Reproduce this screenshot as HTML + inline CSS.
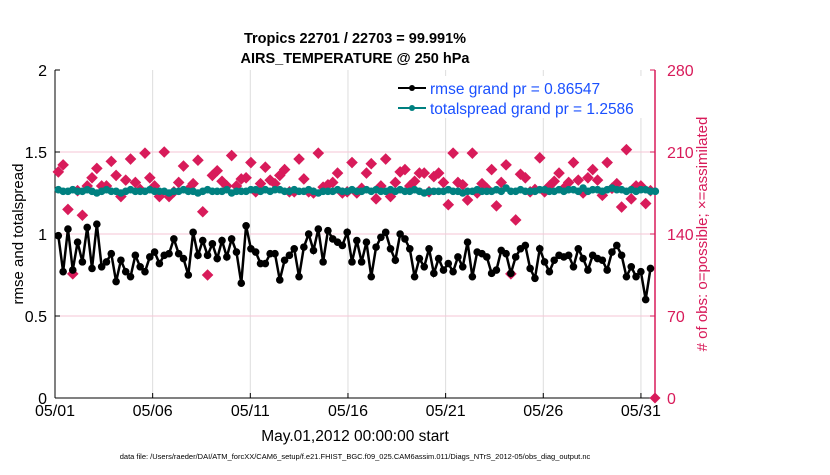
<!DOCTYPE html>
<html><head><meta charset="utf-8"><style>
body{margin:0;background:#fff;width:830px;height:470px;overflow:hidden;font-family:"Liberation Sans",sans-serif}
</style></head><body>
<svg id="chart" width="830" height="470" xmlns="http://www.w3.org/2000/svg" font-family="Liberation Sans, sans-serif">
<text x="355" y="43" text-anchor="middle" font-size="14.5" font-weight="bold">Tropics 22701 / 22703 = 99.991%</text>
<text x="355" y="63" text-anchor="middle" font-size="14.5" font-weight="bold">AIRS_TEMPERATURE @ 250 hPa</text>
<g id="grid"></g><g id="axes"></g><g id="marks"></g>
<g>
<rect x="390" y="76" width="262" height="42" fill="#fff"/>
<g>
<line x1="398" y1="88" x2="426" y2="88" stroke="#000" stroke-width="2"/><circle cx="412" cy="88" r="3" fill="#000"/>
<text x="430" y="94" font-size="15.5" fill="#1a50ff">rmse grand pr = 0.86547</text></g>
<g>
<line x1="398" y1="108" x2="426" y2="108" stroke="#008080" stroke-width="2"/><circle cx="412" cy="108" r="3" fill="#008080"/>
<text x="430" y="114" font-size="15.5" fill="#1a50ff">totalspread grand pr = 1.2586</text></g>
</g>
<text transform="translate(23,234) rotate(-90)" text-anchor="middle" font-size="15">rmse and totalspread</text>
<text transform="translate(707,234) rotate(-90)" text-anchor="middle" font-size="15" fill="#d81b5a"># of obs: o=possible; ×=assimilated</text>
<text x="355" y="441" text-anchor="middle" font-size="15.5">May.01,2012 00:00:00 start</text>
<text x="355" y="459" text-anchor="middle" font-size="7.5">data file: /Users/raeder/DAI/ATM_forcXX/CAM6_setup/f.e21.FHIST_BGC.f09_025.CAM6assim.011/Diags_NTrS_2012-05/obs_diag_output.nc</text>
</svg>
<script>
const rmse=[0.99,0.77,1.03,0.78,0.95,0.83,1.04,0.79,1.06,0.80,0.83,0.88,0.71,0.84,0.77,0.74,0.87,0.80,0.77,0.86,0.89,0.82,0.87,0.88,0.97,0.88,0.85,0.75,1.01,0.87,0.96,0.87,0.94,0.85,0.96,0.86,0.97,0.89,0.70,1.05,0.91,0.89,0.82,0.82,0.88,0.88,0.72,0.84,0.87,0.91,0.74,0.92,1.00,0.90,1.03,0.83,1.02,0.97,0.95,0.93,1.01,0.83,0.96,
0.83,0.95,0.74,0.92,0.98,1.01,0.91,0.84,1.00,0.97,0.91,0.74,0.85,0.80,0.91,0.76,0.85,0.78,0.82,0.77,0.86,0.80,0.95,0.74,0.89,0.88,0.86,0.76,0.78,0.90,0.88,0.76,0.86,0.91,0.93,0.79,0.73,0.91,0.83,0.77,0.84,0.87,0.86,0.87,0.80,0.91,0.85,0.78,0.87,0.85,0.84,0.78,0.89,0.93,0.87,0.74,0.80,0.74,0.77,0.60,0.79];
const spread=[1.27,1.26,1.26,1.27,1.26,1.26,1.27,1.26,1.25,1.26,1.27,1.26,1.26,1.25,1.26,1.27,1.26,1.26,1.26,1.27,1.26,1.26,1.26,1.25,1.26,1.26,1.27,1.26,1.26,1.25,1.26,1.27,1.26,1.26,1.26,1.27,1.25,1.26,1.26,1.26,1.27,1.27,1.26,1.27,1.26,1.27,1.27,1.26,1.26,1.27,1.26,1.26,1.27,1.26,1.25,1.26,1.26,1.26,1.27,1.26,1.26,1.27,1.26,
1.26,1.27,1.26,1.27,1.26,1.26,1.27,1.26,1.27,1.26,1.26,1.27,1.26,1.25,1.26,1.26,1.26,1.26,1.27,1.26,1.26,1.25,1.26,1.26,1.27,1.26,1.26,1.26,1.27,1.26,1.28,1.26,1.26,1.27,1.26,1.26,1.26,1.27,1.27,1.26,1.26,1.27,1.26,1.27,1.27,1.26,1.28,1.26,1.27,1.27,1.26,1.27,1.28,1.27,1.27,1.26,1.27,1.26,1.27,1.27,1.26,1.26];
const nobs=[193,199,161,106,177,156,181,188,196,181,181,202,190,172,186,204,184,178,209,188,181,172,210,172,176,184,198,178,183,203,159,105,190,194,185,181,207,181,187,188,201,176,183,197,186,183,190,195,176,176,204,187,176,175,209,180,182,184,192,175,176,201,175,
179,192,200,170,181,204,172,184,193,195,181,185,192,192,176,189,192,184,165,209,184,182,169,209,175,183,179,195,164,184,199,106,152,191,188,176,178,205,176,181,185,192,179,184,201,186,175,188,195,186,173,201,179,183,163,212,170,181,181,166,177];
const xTicks=[0,5,10,15,20,25,30];
const xTickLabels=["05/01","05/06","05/11","05/16","05/21","05/26","05/31"];
const yTicksL=[0,0.5,1,1.5,2];
const yTicksR=[0,70,140,210,280];
const t0=0.17, dt=0.2465;
const X0=55,X1=655,Y0=398,Y1=70,DMAX=30.72;
const xs=d=>X0+d/DMAX*(X1-X0);
const yl=v=>Y0-v/2*(Y0-Y1);
const yr=v=>Y0-v/280*(Y0-Y1);
const NS="http://www.w3.org/2000/svg";
function mk(tag,attrs,parent){const e=document.createElementNS(NS,tag);for(const k in attrs)e.setAttribute(k,attrs[k]);parent.appendChild(e);return e;}
const grid=document.getElementById('grid'),axes=document.getElementById('axes'),marks=document.getElementById('marks');
const PINK="#d81b5a";
xTicks.forEach((d,i)=>{
 const g=mk('line',{x1:xs(d),x2:xs(d),y1:Y1,y2:Y0,stroke:'#ddd','stroke-width':1},grid);
 
 
 mk('line',{x1:xs(d),x2:xs(d),y1:Y0,y2:Y0-5,stroke:'#000'},axes);
 const t=mk('text',{x:xs(d),y:Y0+18,'text-anchor':'middle','font-size':16},axes);t.textContent=xTickLabels[i];
 
 
});
yTicksR.forEach(v=>{
 if(v>0&&v<280){const g=mk('line',{x1:X0,x2:X1,y1:yr(v),y2:yr(v),stroke:'#f6c6d6','stroke-width':1},grid);
 
 }
 mk('line',{x1:X1,x2:X1-5,y1:yr(v),y2:yr(v),stroke:PINK},axes);
 const t=mk('text',{x:X1+12,y:yr(v)+6,'font-size':16,fill:PINK},axes);t.textContent=v;
 
 
});
yTicksL.forEach(v=>{
 mk('line',{x1:X0,x2:X0+5,y1:yl(v),y2:yl(v),stroke:'#000'},axes);
 const t=mk('text',{x:X0-8,y:yl(v)+6,'text-anchor':'end','font-size':16},axes);t.textContent=v;
 
 
});
mk('line',{x1:X0,x2:X0,y1:Y1,y2:Y0,stroke:'#000'},axes);
mk('line',{x1:X1,x2:X1,y1:Y1,y2:Y0,stroke:PINK,'stroke-width':1.5},axes);
mk('line',{x1:X0,x2:X1,y1:Y0,y2:Y0,stroke:'#000'},axes);
nobs.forEach((v,i)=>{const x=xs(t0+i*dt),y=yr(v);
 const p=mk('polygon',{points:`${x},${y-5.8} ${x+5.8},${y} ${x},${y+5.8} ${x-5.8},${y}`,fill:PINK},marks);
 
 });
const z=mk('polygon',{points:`${X1},${Y0-5.5} ${X1+5.5},${Y0} ${X1},${Y0+5.5} ${X1-5.5},${Y0}`,fill:PINK},marks);


function series(vals,color,name){
 const pl=mk('polyline',{points:vals.map((v,i)=>xs(t0+i*dt)+','+yl(v)).join(' '),fill:'none',stroke:color,'stroke-width':2.5},marks);
 
 
 vals.forEach((v,i)=>{const c=mk('circle',{cx:xs(t0+i*dt),cy:yl(v),r:3.8,fill:color},marks);
 
 });
}
series(spread,'#008080','totalspread');
series(rmse,'#000','rmse');
</script>
</body></html>
